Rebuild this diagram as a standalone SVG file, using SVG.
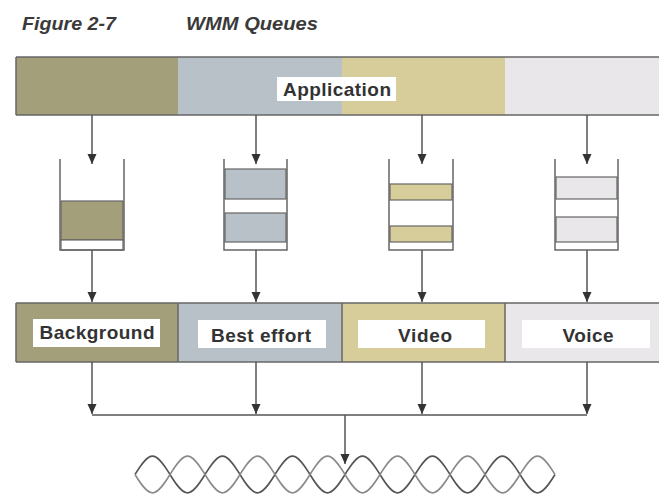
<svg xmlns="http://www.w3.org/2000/svg" width="659" height="496" viewBox="0 0 659 496">
<style>
.title{font-family:"Liberation Sans",Arial,sans-serif;font-weight:bold;font-style:italic;font-size:19px;fill:#3a3a3a}
.lbl{font-family:"Liberation Sans",Arial,sans-serif;font-weight:bold;font-size:19px;fill:#333;text-anchor:middle}
.box{fill:#fff}
.bar{stroke:#666;stroke-width:1.5}
.wire{stroke:#555;stroke-width:1.5;fill:none}
.wall{stroke:#666;stroke-width:1.5;fill:none}
.band{stroke:#666;stroke-width:1.2}
.olive{fill:#a39f7b}
.blue{fill:#b8c1c8}
.tan{fill:#d7cd9b}
.light{fill:#e9e7e9}
.wave1{stroke:#555;stroke-width:1.6;fill:none}
.wave2{stroke:#8a8a8a;stroke-width:1.6;fill:none}
</style>
<defs>
<marker id="arr" viewBox="0 0 10 10" refX="10" refY="5" markerWidth="10" markerHeight="10" markerUnits="userSpaceOnUse" orient="auto">
<path d="M0,0.5 L10,5 L0,9.5 Z" fill="#333"/>
</marker>
</defs>
<text class="title" x="22" y="30" textLength="94" lengthAdjust="spacingAndGlyphs">Figure 2-7</text>
<text class="title" x="186" y="30" textLength="132" lengthAdjust="spacingAndGlyphs">WMM Queues</text>

<g id="application">
<rect class="olive" x="16" y="57" width="162" height="58"/>
<rect class="blue" x="178" y="57" width="164" height="58"/>
<rect class="tan" x="342" y="57" width="163" height="58"/>
<rect class="light" x="505" y="57" width="154" height="58"/>
<line class="bar" x1="16" y1="57" x2="659" y2="57"/>
<line class="bar" x1="16" y1="115" x2="659" y2="115"/>
<line class="bar" x1="16" y1="57" x2="16" y2="115"/>
<rect class="box" x="277" y="77" width="119" height="24"/>
<text class="lbl" x="337" y="96" textLength="108" lengthAdjust="spacing">Application</text>
</g>

<g id="queue-background">
<rect class="olive band" x="61" y="201" width="62" height="39"/>
<rect class="box band" x="61" y="240" width="62" height="10"/>
<path class="wall" d="M60,159 V250 H124 V159"/>
</g>
<g id="queue-besteffort">
<rect class="blue band" x="225" y="169" width="61" height="30"/>
<rect class="blue band" x="225" y="213" width="61" height="29"/>
<path class="wall" d="M224,159 V250 H287 V159"/>
</g>
<g id="queue-video">
<rect class="tan band" x="390" y="184" width="62" height="16"/>
<rect class="tan band" x="390" y="226" width="62" height="16"/>
<path class="wall" d="M389,159 V250 H453 V159"/>
</g>
<g id="queue-voice">
<rect class="light band" x="556" y="177" width="61" height="22"/>
<rect class="light band" x="556" y="217" width="61" height="25"/>
<path class="wall" d="M555,159 V250 H618 V159"/>
</g>

<g id="classes">
<rect class="olive" x="16" y="303" width="162" height="59"/>
<rect class="blue" x="178" y="303" width="164" height="59"/>
<rect class="tan" x="342" y="303" width="163" height="59"/>
<rect class="light" x="505" y="303" width="154" height="59"/>
<line class="bar" x1="16" y1="303" x2="659" y2="303"/>
<line class="bar" x1="16" y1="362" x2="659" y2="362"/>
<line class="bar" x1="16" y1="303" x2="16" y2="362"/>
<line class="bar" x1="178" y1="303" x2="178" y2="362"/>
<line class="bar" x1="342" y1="303" x2="342" y2="362"/>
<line class="bar" x1="505" y1="303" x2="505" y2="362"/>
</g>
<g id="background">
<rect class="box" x="33" y="319" width="127" height="28"/>
<text class="lbl" x="97" y="339" textLength="115" lengthAdjust="spacing">Background</text>
</g>
<g id="besteffort">
<rect class="box" x="198" y="320" width="128" height="28"/>
<text class="lbl" x="261" y="342" textLength="100" lengthAdjust="spacing">Best effort</text>
</g>
<g id="video">
<rect class="box" x="358" y="320" width="127" height="28"/>
<text class="lbl" x="425" y="342" textLength="54" lengthAdjust="spacing">Video</text>
</g>
<g id="voice">
<rect class="box" x="522" y="320" width="128" height="28"/>
<text class="lbl" x="588" y="342" textLength="51" lengthAdjust="spacing">Voice</text>
</g>

<g id="connectors">
<line class="wire" x1="92" y1="115" x2="92" y2="164" marker-end="url(#arr)"/>
<line class="wire" x1="256" y1="115" x2="256" y2="164" marker-end="url(#arr)"/>
<line class="wire" x1="422" y1="115" x2="422" y2="164" marker-end="url(#arr)"/>
<line class="wire" x1="587" y1="115" x2="587" y2="164" marker-end="url(#arr)"/>
<line class="wire" x1="92" y1="250" x2="92" y2="302" marker-end="url(#arr)"/>
<line class="wire" x1="256" y1="250" x2="256" y2="302" marker-end="url(#arr)"/>
<line class="wire" x1="422" y1="250" x2="422" y2="302" marker-end="url(#arr)"/>
<line class="wire" x1="587" y1="250" x2="587" y2="302" marker-end="url(#arr)"/>
<line class="wire" x1="92" y1="362" x2="92" y2="414" marker-end="url(#arr)"/>
<line class="wire" x1="256" y1="362" x2="256" y2="414" marker-end="url(#arr)"/>
<line class="wire" x1="422" y1="362" x2="422" y2="414" marker-end="url(#arr)"/>
<line class="wire" x1="587" y1="362" x2="587" y2="414" marker-end="url(#arr)"/>
<line class="wire" x1="92" y1="415" x2="587" y2="415"/>
<line class="wire" x1="345" y1="415" x2="345" y2="464" marker-end="url(#arr)"/>
</g>

<g id="wave">
<path class="wave1" d="M135,474.5 C149.9,450 155.1,450 170,474.5 C184.9,499 190.1,499 205,474.5 C219.9,450 225.1,450 240,474.5 C254.9,499 260.1,499 275,474.5 C289.9,450 295.1,450 310,474.5 C324.9,499 330.1,499 345,474.5 C359.9,450 365.1,450 380,474.5 C394.9,499 400.1,499 415,474.5 C429.9,450 435.1,450 450,474.5 C464.9,499 470.1,499 485,474.5 C499.9,450 505.1,450 520,474.5 C534.9,499 540.1,499 555,474.5"/>
<path class="wave2" d="M135,474.5 C149.9,499 155.1,499 170,474.5 C184.9,450 190.1,450 205,474.5 C219.9,499 225.1,499 240,474.5 C254.9,450 260.1,450 275,474.5 C289.9,499 295.1,499 310,474.5 C324.9,450 330.1,450 345,474.5 C359.9,499 365.1,499 380,474.5 C394.9,450 400.1,450 415,474.5 C429.9,499 435.1,499 450,474.5 C464.9,450 470.1,450 485,474.5 C499.9,499 505.1,499 520,474.5 C534.9,450 540.1,450 555,474.5"/>
</g>
</svg>
